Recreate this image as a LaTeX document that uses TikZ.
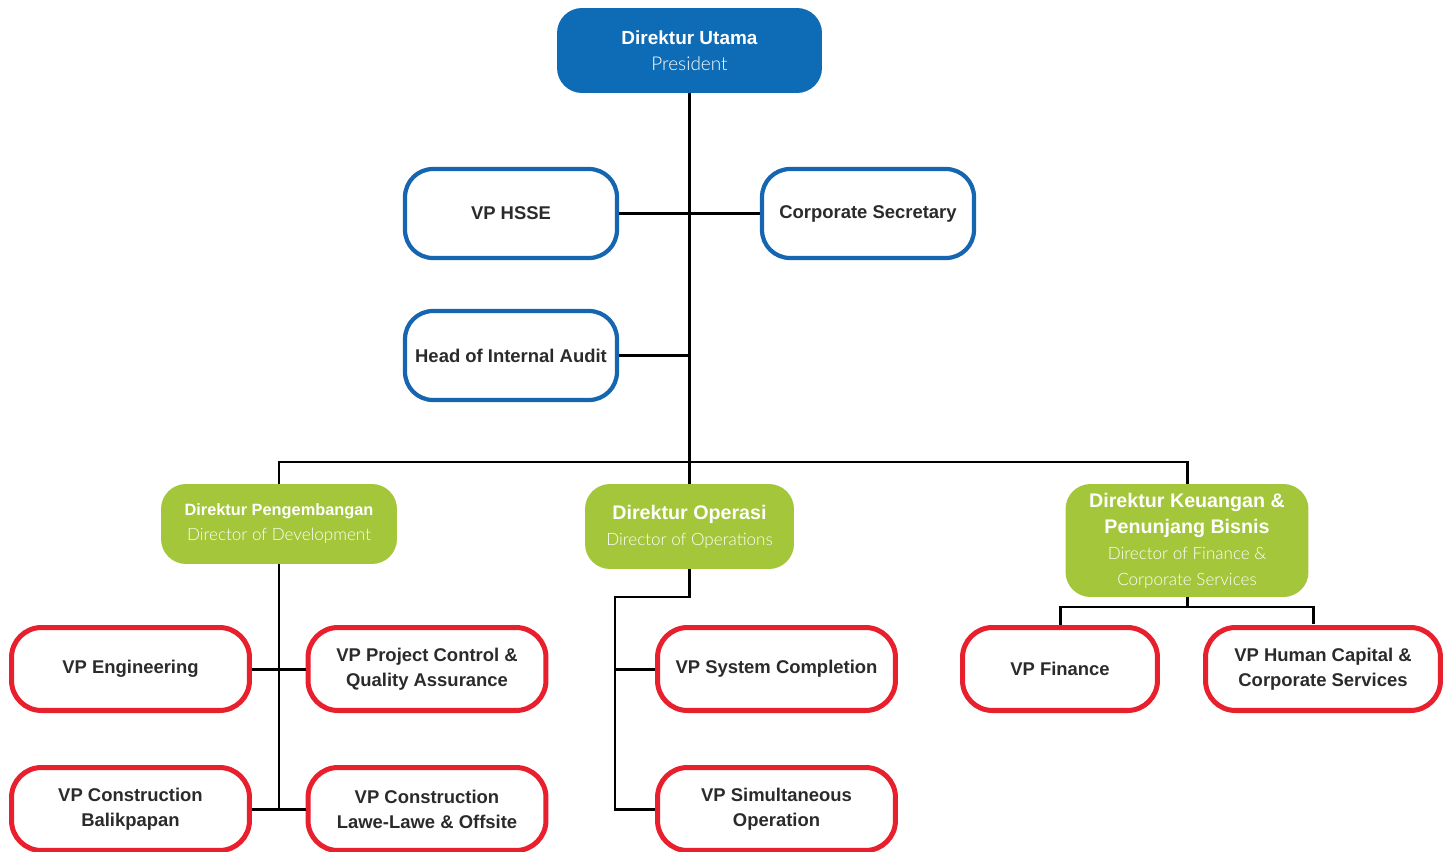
\documentclass[tikz,border=0pt]{standalone}
\usepackage{fontspec}
\setmainfont{Liberation Sans}
\newfontfamily\lightfont{Lato Light}
\definecolor{topblue}{HTML}{0E6BB5}
\definecolor{lineblue}{HTML}{1565B0}
\definecolor{dirgreen}{HTML}{A3C63B}
\definecolor{vpred}{HTML}{E8202E}
\definecolor{txt}{HTML}{2B2B2B}
\begin{document}
\begin{tikzpicture}[x=0.02cm, y=-0.02cm,
  conn/.style={line width=1.7pt, black},
  pres/.style={fill=topblue, text=white, rounded corners=0.5cm, minimum width=5.3cm, minimum height=1.7cm, align=center, font=\fontsize{10.8}{14.5}\selectfont},
  staff/.style={draw=lineblue, line width=2.4pt, fill=white, text=txt, rounded corners=0.56cm, minimum width=4.24cm, minimum height=1.78cm, align=center, font=\bfseries\fontsize{10.5}{14.2}\selectfont},
  dir/.style={fill=dirgreen, text=white, rounded corners=0.5cm, align=center, inner sep=0pt},
  vp/.style={draw=vpred, line width=2.85pt, fill=white, text=txt, rounded corners=0.6cm, minimum width=4.76cm, minimum height=1.66cm, align=center, font=\bfseries\fontsize{10.5}{14.2}\selectfont}]
\useasboundingbox (0,0) rectangle (1444,852);
\node[pres] (utama) at (689.5,50.5) {\bfseries Direktur Utama\\{\lightfont President}};
\node[staff] (hsse) at (511,213.5) {VP HSSE};
\node[staff] (corsec) at (868,213.5) {Corporate Secretary};
\node[staff] (audit) at (511,355.5) {Head of Internal Audit};
\node[dir, minimum width=4.72cm, minimum height=1.6cm, font=\fontsize{9.3}{14.2}\selectfont] (dev) at (279,524) {\bfseries Direktur Pengembangan\\{\lightfont\fontsize{9.7}{14.2}\selectfont Director of Development}};
\node[dir, minimum width=4.18cm, minimum height=1.7cm, font=\fontsize{11.2}{14.8}\selectfont] (ops) at (689.5,526.5) {\bfseries Direktur Operasi\\{\lightfont\fontsize{9.7}{14.8}\selectfont Director of Operations}};
\node[dir, minimum width=4.86cm, minimum height=2.26cm, font=\fontsize{11.2}{14.8}\selectfont] (fin) at (1187,540.5) {\bfseries Direktur Keuangan \&\\\bfseries Penunjang Bisnis\\{\lightfont\fontsize{9.7}{14.8}\selectfont Director of Finance \&}\\{\lightfont\fontsize{9.7}{14.8}\selectfont Corporate Services}};
\node[vp] (eng) at (130.5,669) {VP Engineering};
\node[vp] (pcqa) at (427,669) {VP Project Control \&\\Quality Assurance};
\node[vp] (bpn) at (130.5,809) {VP Construction\\Balikpapan};
\node[vp] (lawe) at (427,809) {VP Construction\\Lawe-Lawe \& Offsite};
\node[vp] (sysc) at (776.5,669) {VP System Completion};
\node[vp] (simops) at (776.5,809) {VP Simultaneous\\Operation};
\node[vp, minimum width=3.9cm] (vpfin) at (1060,669) {VP Finance};
\node[vp, minimum width=4.7cm] (hc) at (1323,669) {VP Human Capital \&\\Corporate Services};
\coordinate (bus) at (689,462);
\coordinate (opsbend) at (615,597);
\coordinate (finbus) at (1187,607);
\coordinate (hcdrop) at (1313,624);
\draw[conn] (utama.south) -- (ops.north);
\draw[conn] (hsse.east) -- (corsec.west);
\draw[conn] (audit.east) -- (audit.east -| utama.south);
\draw[conn] (dev.north) |- (bus) -| (fin.north);
\draw[conn] (dev.south) -- (dev.south |- lawe.west);
\draw[conn] (eng.east) -- (pcqa.west);
\draw[conn] (bpn.east) -- (lawe.west);
\draw[conn] (ops.south) |- (opsbend) |- (simops.west);
\draw[conn] (opsbend |- sysc.west) -- (sysc.west);
\draw[conn] (fin.south) -- (finbus);
\draw[conn] (vpfin.north) |- (finbus) -| (hcdrop);
\end{tikzpicture}
\end{document}
